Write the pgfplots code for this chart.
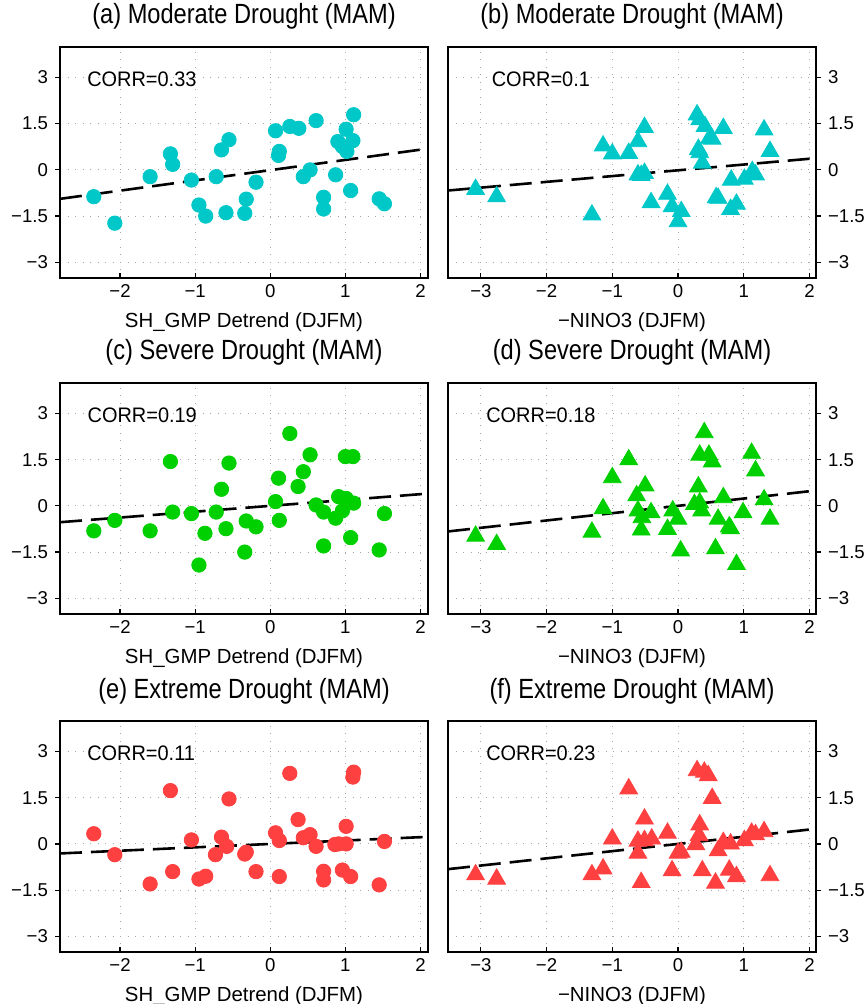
\documentclass[border=0pt]{standalone}
\usepackage{fontspec}
\setmainfont{Liberation Sans}
\newfontfamily\titlefont{Liberation Sans}[FakeStretch=0.85]
\newfontfamily\corrfont{Liberation Sans}[FakeStretch=0.95]
\usepackage{pgfplots}
\pgfplotsset{compat=1.18}
\definecolor{cyanm}{RGB}{0,200,200}
\definecolor{greenm}{RGB}{0,208,0}
\definecolor{redm}{RGB}{255,64,64}

\pgfplotsset{
  panel/.style={
    scale only axis, width=184pt, height=115.5pt,
    ymin=-3.5, ymax=4,
    ytick={-3,-1.5,0,1.5,3},
    yticklabels={−3,−1.5,0,1.5,3},
    grid=major,
    major grid style={color=black!35, line width=0.5pt, dash pattern=on 0.5pt off 3.25pt},
    axis line style={line width=1pt},
    every tick/.style={black, line width=0.6pt},
    major tick length=2.5pt,
    xtick align=inside, ytick align=outside,
    xtick pos=left,
    tick label style={font=\fontsize{9.3}{10}\selectfont},
    title style={font=\titlefont\fontsize{13.9}{14}\selectfont, at={(0.5,1)}, anchor=base, yshift=5.35pt},
    xlabel style={font=\fontsize{10.2}{11}\selectfont, at={(0.5,0)}, anchor=base, yshift=-25pt},
  },
  lpanel/.style={panel, xmin=-2.8, xmax=2.1, xtick={-2,-1,0,1,2}, xticklabels={−2,−1,0,1,2},
    ytick pos=left, xlabel={SH\_GMP Detrend (DJFM)}},
  rpanel/.style={panel, xmin=-3.5, xmax=2.1, xtick={-3,-2,-1,0,1,2}, xticklabels={−3,−2,−1,0,1,2},
    ytick pos=right, yticklabel pos=right, xlabel={−NINO3 (DJFM)}},
  circ/.style={only marks, mark=*, mark size=3.6pt},
  tri/.style={only marks, mark=triangle*, mark size=5.1pt},
  fit/.style={black, line width=1.3pt, dash pattern=on 11pt off 4.5pt},
}
\newcommand{\corr}[2]{\node[anchor=base west, inner sep=0pt, font=\corrfont\fontsize{10.5}{11}\selectfont] at (#1) {#2};}

\begin{document}
\begin{tikzpicture}
\path[use as bounding box] (0,0) rectangle (433pt,-502pt);

% (a)
\begin{axis}[lpanel, at={(30pt,-23.35pt)}, anchor=north west, title={(a) Moderate Drought (MAM)}]
\addplot[circ, color=cyanm] coordinates {
(-2.35,-0.87) (-2.07,-1.73) (-1.60,-0.22) (-1.33,0.52) (-1.30,0.18) (-1.05,-0.33)
(-0.95,-1.14) (-0.86,-1.50) (-0.72,-0.22) (-0.65,0.65) (-0.55,0.98) (-0.59,-1.39)
(-0.34,-1.41) (-0.32,-0.95) (-0.19,-0.40) (0.07,1.27) (0.12,0.60) (0.11,0.47)
(0.26,1.41) (0.38,1.35) (0.44,-0.22) (0.53,0.00) (0.61,1.60) (0.71,-0.89)
(0.71,-1.27) (0.87,-0.16) (0.90,0.92) (0.96,0.76) (1.01,1.32) (1.02,0.60)
(1.10,0.95) (1.11,1.79) (1.07,-0.67) (1.45,-0.94) (1.52,-1.10)
};
\addplot[fit] coordinates {(-2.8,-0.94) (2.1,0.69)};
\corr{rel axis cs:0.073,0.826}{CORR=0.33}
\end{axis}

% (b)
\begin{axis}[rpanel, at={(224pt,-23.35pt)}, anchor=north west, title={(b) Moderate Drought (MAM)}]
\addplot[tri, color=cyanm] coordinates {
(-3.08,-0.63) (-2.76,-0.87) (-1.31,-1.46) (-1.14,0.78) (-1.00,0.52) (-0.75,0.54)
(-0.61,0.92) (-0.51,1.38) (-0.61,-0.16) (-0.51,-0.11) (-0.56,-0.18) (-0.41,-1.06)
(-0.16,-0.79) (-0.09,-1.19) (0.05,-1.35) (0.00,-1.68) (0.29,1.79) (0.33,1.63)
(0.41,1.41) (0.31,0.67) (0.33,0.56) (0.37,0.22) (0.48,1.03) (0.69,1.35)
(0.58,-0.90) (0.81,-0.33) (0.80,-1.28) (0.89,-1.11) (1.01,-0.30) (1.13,-0.05)
(1.18,-0.16) (1.31,1.30) (1.40,0.60) (0.52,1.00) (0.61,-0.92)
};
\addplot[fit] coordinates {(-3.5,-0.67) (2.1,0.38)};
\corr{rel axis cs:0.118,0.826}{CORR=0.1}
\end{axis}

% (c)
\begin{axis}[lpanel, at={(30pt,-191.35pt)}, anchor=north west, title={(c) Severe Drought (MAM)}]
\addplot[circ, color=greenm] coordinates {
(-2.35,-0.81) (-2.07,-0.47) (-1.60,-0.81) (-1.33,1.44) (-1.30,-0.20) (-1.05,-0.25)
(-0.95,-1.92) (-0.87,-0.89) (-0.72,-0.20) (-0.65,0.54) (-0.55,1.39) (-0.59,-0.74)
(-0.34,-1.50) (-0.32,-0.49) (-0.19,-0.68) (0.07,0.14) (0.11,0.90) (0.12,-0.47)
(0.26,2.35) (0.37,0.63) (0.44,1.11) (0.53,1.66) (0.61,0.03) (0.71,-0.20)
(0.71,-1.30) (0.87,-0.40) (0.91,0.30) (0.96,-0.16) (1.01,0.24) (1.00,1.60)
(1.10,1.60) (1.11,0.09) (1.07,-1.03) (1.45,-1.43) (1.52,-0.25)
};
\addplot[fit] coordinates {(-2.8,-0.53) (2.1,0.40)};
\corr{rel axis cs:0.074,0.826}{CORR=0.19}
\end{axis}

% (d)
\begin{axis}[rpanel, at={(224pt,-191.35pt)}, anchor=north west, title={(d) Severe Drought (MAM)}]
\addplot[tri, color=greenm] coordinates {
(-3.08,-0.98) (-2.76,-1.25) (-1.31,-0.85) (-1.14,-0.09) (-1.00,0.92) (-0.75,1.50)
(-0.63,0.33) (-0.50,0.65) (-0.61,-0.16) (-0.55,-0.38) (-0.41,-0.22) (-0.56,-0.78)
(-0.16,-0.76) (-0.08,-0.16) (0.00,-0.43) (0.04,-1.46) (0.40,2.38) (0.33,1.65)
(0.47,1.65) (0.52,1.43) (0.31,0.62) (0.25,0.05) (0.36,-0.16) (0.69,0.27)
(0.61,-0.43) (0.57,-1.39) (0.78,-0.68) (0.80,-0.74) (0.89,-1.90) (0.99,-0.22)
(1.12,1.71) (1.18,1.14) (1.31,0.20) (1.40,-0.43) (0.33,0.10)
};
\addplot[fit] coordinates {(-3.5,-0.83) (2.1,0.50)};
\corr{rel axis cs:0.103,0.826}{CORR=0.18}
\end{axis}

% (e)
\begin{axis}[lpanel, at={(30pt,-360.35pt)}, anchor=north west, title={(e) Extreme Drought (MAM)}]
\addplot[circ, color=redm] coordinates {
(-2.35,0.33) (-2.07,-0.35) (-1.60,-1.30) (-1.33,1.73) (-1.30,-0.90) (-1.05,0.13)
(-0.95,-1.14) (-0.86,-1.05) (-0.73,-0.35) (-0.65,0.22) (-0.55,1.46) (-0.58,-0.08)
(-0.34,-0.33) (-0.32,-0.27) (-0.19,-0.90) (0.07,0.36) (0.12,0.11) (0.12,-1.06)
(0.26,2.29) (0.37,0.79) (0.44,0.20) (0.53,0.30) (0.61,-0.08) (0.71,-0.89)
(0.71,-1.17) (0.86,-0.02) (0.91,0.00) (0.96,-0.85) (1.01,0.00) (1.01,0.57)
(1.07,-1.06) (1.10,2.17) (1.11,2.33) (1.45,-1.33) (1.52,0.08)
};
\addplot[fit] coordinates {(-2.8,-0.31) (2.1,0.23)};
\corr{rel axis cs:0.073,0.828}{CORR=0.11}
\end{axis}

% (f)
\begin{axis}[rpanel, at={(224pt,-360.35pt)}, anchor=north west, title={(f) Extreme Drought (MAM)}]
\addplot[tri, color=redm] coordinates {
(-3.08,-1.00) (-2.76,-1.14) (-1.31,-1.00) (-1.14,-0.81) (-1.00,0.16) (-0.75,1.79)
(-0.61,0.09) (-0.51,0.11) (-0.40,0.16) (-0.51,0.81) (-0.61,-0.30) (-0.56,-1.25)
(-0.16,0.35) (-0.09,-0.87) (0.00,-0.30) (0.05,-0.27) (0.29,2.38) (0.40,2.33)
(0.46,2.22) (0.52,1.48) (0.33,0.62) (0.32,0.27) (0.27,-0.02) (0.37,-0.87)
(0.61,-0.22) (0.57,-1.27) (0.69,0.05) (0.80,0.00) (0.78,-0.85) (0.89,-1.06)
(1.01,0.11) (1.12,0.35) (1.18,0.30) (1.31,0.40) (1.40,-1.03)
};
\addplot[fit] coordinates {(-3.5,-0.82) (2.1,0.49)};
\corr{rel axis cs:0.103,0.828}{CORR=0.23}
\end{axis}
\end{tikzpicture}
\end{document}
